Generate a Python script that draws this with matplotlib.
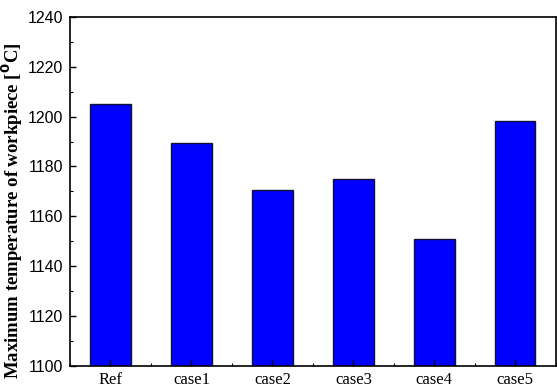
import matplotlib
matplotlib.use("Agg")
import matplotlib.pyplot as plt
from matplotlib.ticker import MultipleLocator

cases = ["Ref", "case1", "case2", "case3", "case4", "case5"]
max_temp = [1205.0, 1189.3, 1170.5, 1174.9, 1151.1, 1198.3]

fig = plt.figure(figsize=(5.57, 3.90), dpi=100)
ax = fig.add_axes([0.1257, 0.0615, 0.872, 0.8955])

x = list(range(len(cases)))
ax.bar(x, max_temp, width=0.5, color="#0000FF", edgecolor="#111133", linewidth=1.0)

ax.set_xlim(-0.5, 5.5)
ax.set_ylim(1100, 1240)
ax.set_xticks(x)
ax.set_xticklabels(cases, family="Liberation Serif", fontsize=12)
ax.xaxis.set_minor_locator(MultipleLocator(0.5))
ax.yaxis.set_major_locator(MultipleLocator(20))
ax.yaxis.set_minor_locator(MultipleLocator(10))
for lbl in ax.get_yticklabels():
    lbl.set_family("Liberation Sans")
    lbl.set_fontsize(11.5)

ax.tick_params(which="both", direction="in", top=False, right=False)
ax.tick_params(which="major", length=4, width=1)
ax.tick_params(which="minor", length=2, width=0.8)
ax.tick_params(axis="x", which="major", pad=4)
ax.tick_params(axis="y", which="major", pad=5)
for sp in ax.spines.values():
    sp.set_linewidth(1.2)

ax.set_ylabel(r"Maximum temperature of workpiece [$^{\mathbf{0}}$C]",
              family="Liberation Serif", fontweight="bold", fontsize=13.5)
ax.yaxis.set_label_coords(-0.092, 0.445)

fig.savefig("out.png", dpi=100)
